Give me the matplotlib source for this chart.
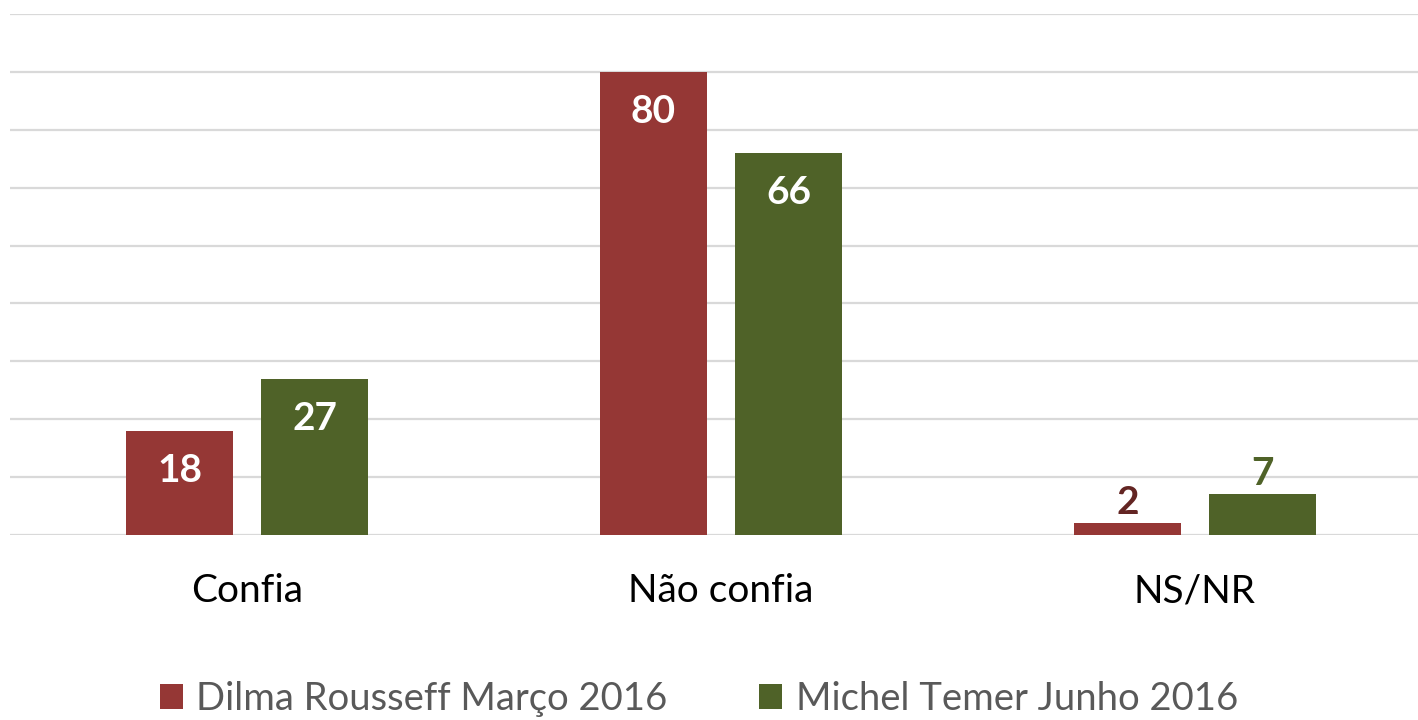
import matplotlib
matplotlib.use("Agg")
import matplotlib.pyplot as plt
import numpy as np

categories = ["Confia", "Não confia", "NS/NR"]
dilma = [18, 80, 2]
temer = [27, 66, 7]
series_names = ["Dilma Rousseff Março 2016", "Michel Temer Junho 2016"]

plt.rcParams['font.family'] = ['Lato', 'DejaVu Sans']

W, H = 1418, 720
fig = plt.figure(figsize=(W/100, H/100), dpi=100)
ax = fig.add_axes([10/W, 1-535/H, (W-10)/W, (535-14)/H])

red = "#953735"
green = "#4F6228"
x = np.arange(len(categories))
bw = 0.224
off = 0.1425
b1 = ax.bar(x - off, dilma, bw, color=red, zorder=3, label=series_names[0])
b2 = ax.bar(x + off, temer, bw, color=green, zorder=3, label=series_names[1])

ax.set_ylim(0, 90)
ax.set_xlim(-0.5, 2 + (W-1195)/474)
ax.set_yticks(np.arange(0, 91, 10))
ax.yaxis.grid(True, color="#d9d9d9", linewidth=1.6, zorder=0)
ax.tick_params(axis='y', left=False, labelleft=False)
ax.tick_params(axis='x', bottom=False, pad=24, labelsize=28, labelcolor="black")
ax.set_xticks(x)
ax.set_xticklabels(categories)
for s in ax.spines.values():
    s.set_visible(False)

def label(bars, vals, darkcol):
    for r, v in zip(bars, vals):
        cx = r.get_x() + r.get_width()/2
        if v >= 10:
            ax.annotate(str(v), (cx, v), xytext=(0, -40*0.72), textcoords='offset points',
                        ha='center', va='center', color='white', fontsize=28, fontweight='bold', zorder=4)
        else:
            ax.annotate(str(v), (cx, v), xytext=(0, 21*0.72), textcoords='offset points',
                        ha='center', va='center', color=darkcol, fontsize=28, fontweight='bold', zorder=4)

label(b1, dilma, "#632523")
label(b2, temer, green)

leg = fig.legend(loc='center', bbox_to_anchor=(699/W, 1-699/H), ncol=2, frameon=False,
                 handlelength=0.6, handleheight=0.6, handletextpad=0.35, columnspacing=2.4,
                 fontsize=27.5)
for t in leg.get_texts():
    t.set_color("#595959")

fig.savefig("out.png", dpi=100)
